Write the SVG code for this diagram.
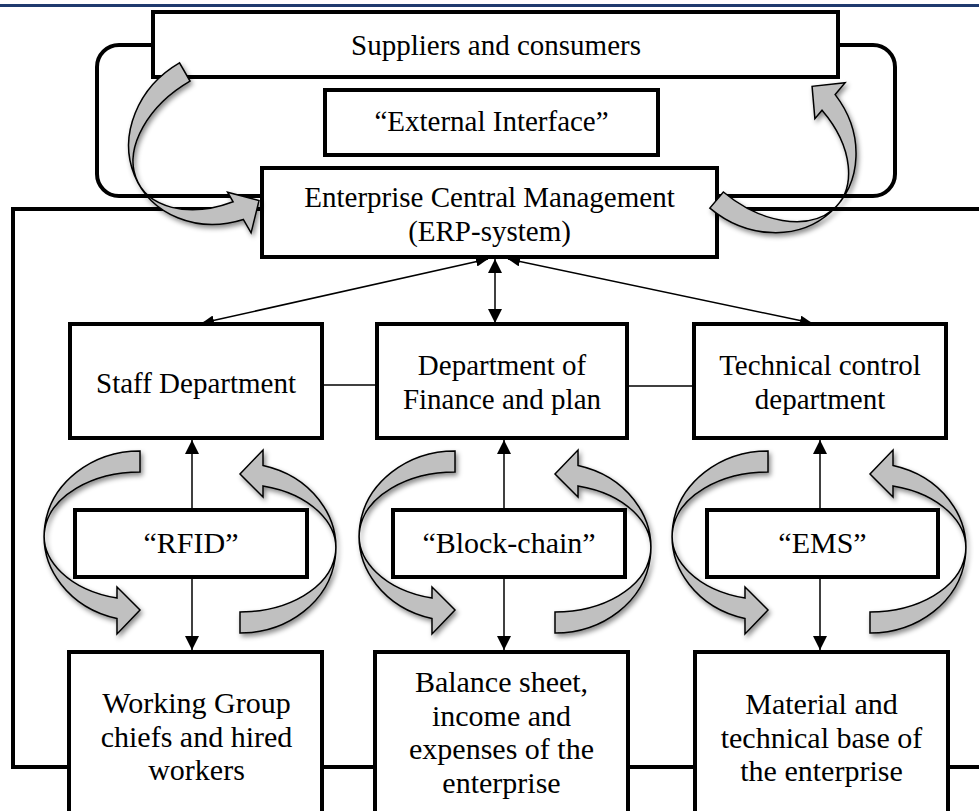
<svg xmlns="http://www.w3.org/2000/svg" width="979" height="811" viewBox="0 0 979 811">
<style>
.box{fill:#fff;stroke:#000;stroke-width:4;stroke-linejoin:miter}
.t{font-family:"Liberation Serif","Times New Roman",serif;font-size:29px;fill:#000;text-anchor:middle}
.tq{font-size:30px}
.tb{font-size:30px}
.ln{stroke:#000;stroke-width:1.5;fill:none}
.frame{stroke:#000;stroke-width:4;fill:none}
.ca{fill:#c0c0c0;stroke:#000;stroke-width:1.5;stroke-linejoin:miter}
</style>
<defs>
<marker id="ah" viewBox="0 0 14 14" refX="14" refY="7" markerWidth="14" markerHeight="14" markerUnits="userSpaceOnUse" orient="auto-start-reverse">
<path d="M0,0 L14,7 L0,14 z" fill="#000"/>
</marker>
<marker id="ahs" viewBox="0 0 12 10" refX="12" refY="5" markerWidth="12" markerHeight="10" markerUnits="userSpaceOnUse" orient="auto-start-reverse">
<path d="M0,0 L12,5 L0,10 z" fill="#000"/>
</marker>
<filter id="sh" x="-20%" y="-20%" width="140%" height="140%">
<feDropShadow dx="2" dy="3" stdDeviation="2.5" flood-color="#000" flood-opacity="0.45"/>
</filter>
<path id="ca" class="ca" d="M 0,-85 A 96,85 0 0 0 -23,82.5 L -23,98 L 0,74 L -23,51 L -23,62.1 A 96,64 0 0 1 0,-64 Z"/>
</defs>

<rect x="0" y="0" width="979" height="811" fill="#fff"/>
<line x1="0" y1="5.5" x2="979" y2="5.5" stroke="#1f3a6e" stroke-width="3"/>

<g id="frames">
<rect x="97" y="45" width="798" height="151" rx="22" ry="22" class="frame"/>
<polyline class="frame" points="262,209 13,209 13,767 979,767"/>
<line class="frame" x1="717" y1="209" x2="979" y2="209"/>
</g>

<g id="connectors">
<line class="ln" x1="322" y1="385" x2="377" y2="385"/>
<line class="ln" x1="627" y1="386" x2="694" y2="386"/>
</g>

<g id="suppliers">
<rect class="box" x="153" y="12" width="685" height="65"/>
<text class="t" x="496" y="55">Suppliers and consumers</text>
</g>
<g id="external">
<rect class="box" x="325" y="90" width="333" height="65"/>
<text class="t" x="491.5" y="131">“External Interface”</text>
</g>
<g id="erp">
<rect class="box" x="262" y="168" width="455" height="89"/>
<text class="t" x="489.5" y="207">Enterprise Central Management</text>
<text class="t" x="489.5" y="241">(ERP-system)</text>
</g>

<g id="staff">
<rect class="box" x="70" y="324" width="252" height="114"/>
<text class="t" x="196" y="393">Staff Department</text>
</g>
<g id="finance">
<rect class="box" x="377" y="324" width="250" height="114"/>
<text class="t" x="502" y="375">Department of</text>
<text class="t" x="502" y="409">Finance and plan</text>
</g>
<g id="technical">
<rect class="box" x="694" y="324" width="252" height="114"/>
<text class="t" x="820" y="375">Technical control</text>
<text class="t" x="820" y="409">department</text>
</g>

<g id="rfid">
<rect class="box" x="75" y="510" width="232" height="67"/>
<text class="t tq" x="191" y="553">“RFID”</text>
</g>
<g id="blockchain">
<rect class="box" x="393" y="510" width="232" height="67"/>
<text class="t tq" x="509" y="553">“Block-chain”</text>
</g>
<g id="ems">
<rect class="box" x="707" y="510" width="231" height="67"/>
<text class="t tq" x="822.5" y="553">“EMS”</text>
</g>

<g id="workgroup">
<rect class="box" x="69" y="652" width="253" height="180"/>
<text class="t tb" x="196.5" y="713">Working Group</text>
<text class="t tb" x="196.5" y="746.5">chiefs and hired</text>
<text class="t tb" x="196.5" y="780">workers</text>
</g>
<g id="balance">
<rect class="box" x="375" y="652" width="253" height="180"/>
<text class="t tb" x="501.5" y="692">Balance sheet,</text>
<text class="t tb" x="501.5" y="725.5">income and</text>
<text class="t tb" x="501.5" y="759">expenses of the</text>
<text class="t tb" x="501.5" y="792.5">enterprise</text>
</g>
<g id="material">
<rect class="box" x="695" y="652" width="253" height="180"/>
<text class="t tb" x="821.5" y="714">Material and</text>
<text class="t tb" x="821.5" y="747.5">technical base of</text>
<text class="t tb" x="821.5" y="781">the enterprise</text>
</g>

<g id="arrows">
<line class="ln" x1="488" y1="259" x2="202" y2="323" marker-start="url(#ahs)" marker-end="url(#ahs)"/>
<line class="ln" x1="508" y1="259" x2="812" y2="323" marker-start="url(#ahs)" marker-end="url(#ahs)"/>
<line class="ln" x1="495" y1="259" x2="495" y2="323" marker-start="url(#ah)" marker-end="url(#ah)"/>
<line class="ln" x1="192" y1="510" x2="192" y2="440" marker-end="url(#ah)"/>
<line class="ln" x1="192" y1="577" x2="192" y2="650" marker-end="url(#ah)"/>
<line class="ln" x1="504" y1="510" x2="504" y2="440" marker-end="url(#ah)"/>
<line class="ln" x1="504" y1="577" x2="504" y2="650" marker-end="url(#ah)"/>
<line class="ln" x1="820" y1="510" x2="820" y2="440" marker-end="url(#ah)"/>
<line class="ln" x1="820" y1="577" x2="820" y2="650" marker-end="url(#ah)"/>
</g>

<g id="curved-arrows">
<g filter="url(#sh)"><use href="#ca" transform="translate(222,136.5) rotate(-30)"/></g>
<g filter="url(#sh)"><use href="#ca" transform="translate(764.5,143) rotate(220)"/></g>
<g filter="url(#sh)"><use href="#ca" transform="translate(140,536)"/></g>
<g filter="url(#sh)"><use href="#ca" transform="translate(240,548) rotate(180)"/></g>
<g filter="url(#sh)"><use href="#ca" transform="translate(455,536)"/></g>
<g filter="url(#sh)"><use href="#ca" transform="translate(555,548) rotate(180)"/></g>
<g filter="url(#sh)"><use href="#ca" transform="translate(768,536)"/></g>
<g filter="url(#sh)"><use href="#ca" transform="translate(870,548) rotate(180)"/></g>
</g>
</svg>
